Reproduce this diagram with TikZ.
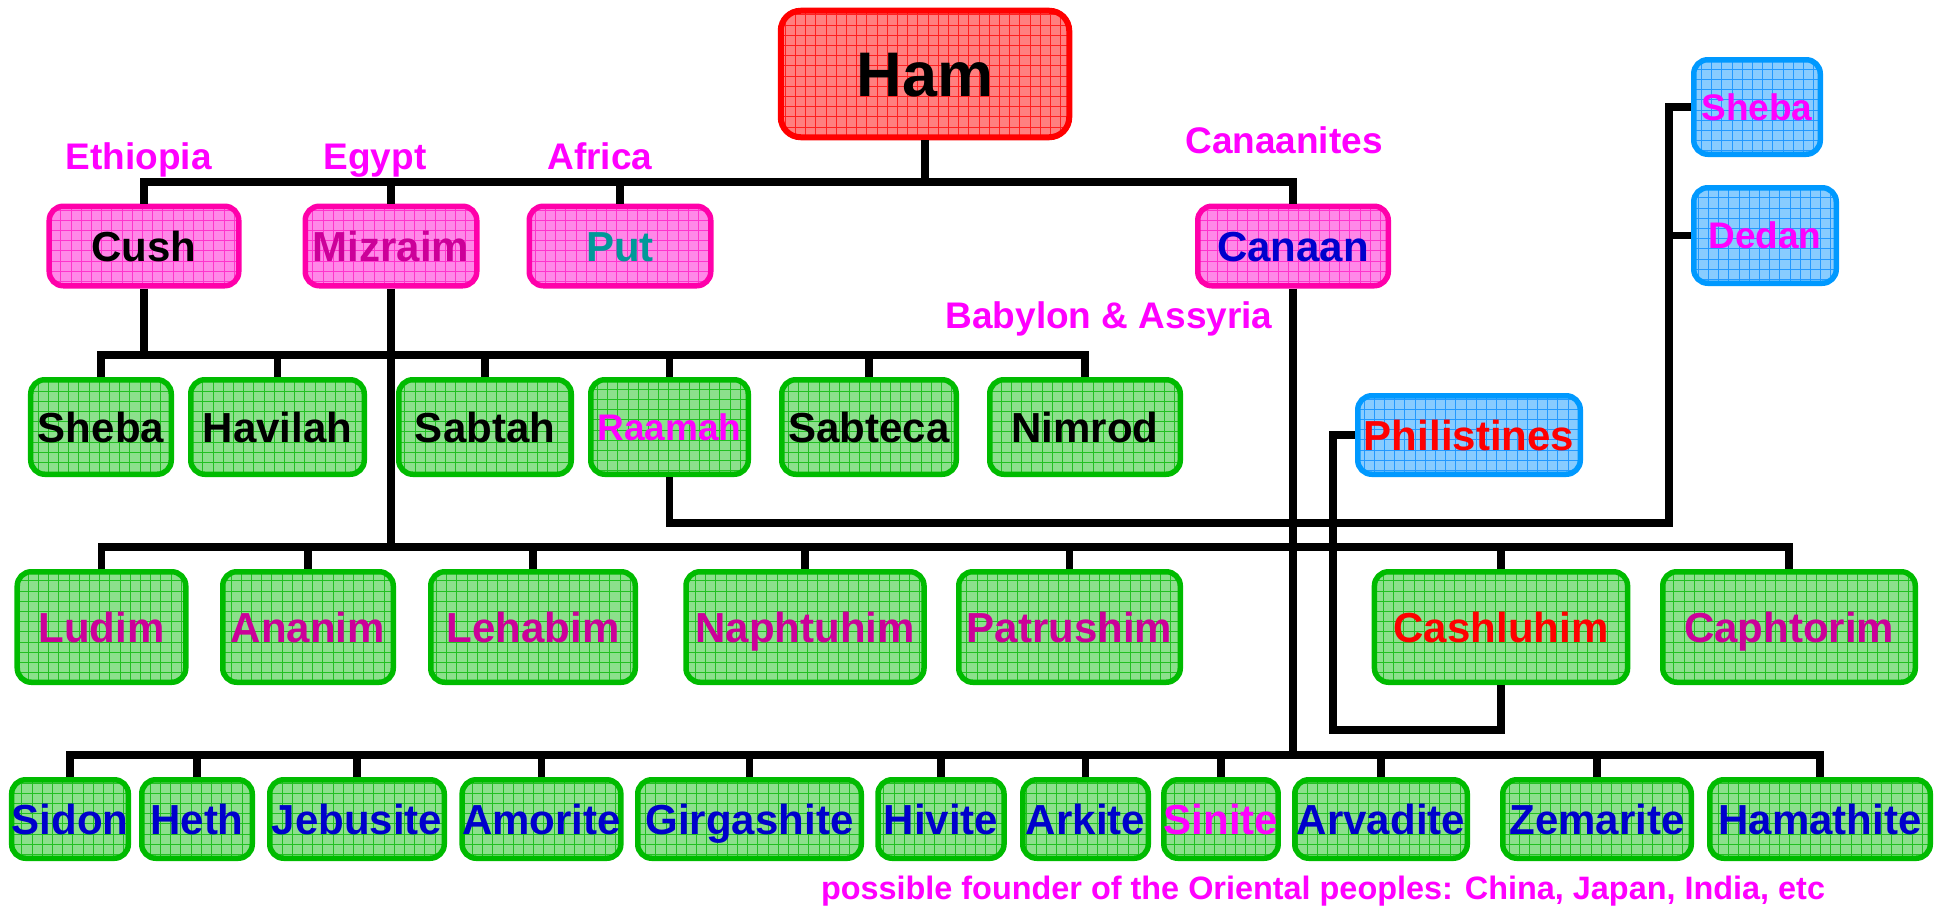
\documentclass[tikz,border=0pt]{standalone}
\usepackage{fontspec}
\setmainfont{Liberation Sans}
\definecolor{gfill}{HTML}{8CE08C}
\definecolor{gline}{HTML}{22C022}
\definecolor{gborder}{HTML}{00BB00}
\definecolor{pfill}{HTML}{FF88E8}
\definecolor{pline}{HTML}{FF33CC}
\definecolor{pborder}{HTML}{FF00AA}
\definecolor{rfill}{HTML}{FF8080}
\definecolor{rline}{HTML}{FF2020}
\definecolor{rborder}{HTML}{FF0000}
\definecolor{bfill}{HTML}{88CCFF}
\definecolor{bline}{HTML}{2299FF}
\definecolor{bborder}{HTML}{0099FF}
\definecolor{tmag}{HTML}{FF00FF}
\definecolor{tpurp}{HTML}{CC0099}
\definecolor{tblue}{HTML}{0000CC}
\definecolor{tteal}{HTML}{009999}
\definecolor{tred}{HTML}{FF0000}
\newcommand\fbigname{\bfseries\fontsize{42bp}{50bp}\selectfont}
\newcommand\fsmname{\bfseries\fontsize{37bp}{44bp}\selectfont}
\newcommand\fhamname{\bfseries\fontsize{63bp}{70bp}\selectfont}
\newcommand\fnote{\bfseries\fontsize{32.4bp}{38bp}\selectfont}
\begin{document}
\begin{tikzpicture}[x=1bp,y=-1bp,
  bx/.style n args={2}{minimum width={#1bp-5.5bp}, minimum height={#2bp-5.5bp}},
  basebox/.style={draw, rounded corners=14bp, line width=5.5bp, inner sep=0pt,
    text height=30bp, text depth=0pt, font=\fbigname},
  gnode/.style={basebox, draw=gborder, fill=gfill,
    path picture={\draw[gline, line width=0.9bp, step=10.2bp] (path picture bounding box.south west) grid (path picture bounding box.north east);}},
  pnode/.style={basebox, draw=pborder, fill=pfill,
    path picture={\draw[pline, line width=0.9bp, step=10.2bp] (path picture bounding box.south west) grid (path picture bounding box.north east);}},
  rnode/.style={basebox, draw=rborder, fill=rfill, line width=6bp, rounded corners=20bp,
    path picture={\draw[rline, line width=0.9bp, step=10.2bp] (path picture bounding box.south west) grid (path picture bounding box.north east);}},
  bnode/.style={basebox, draw=bborder, fill=bfill,
    path picture={\draw[bline, line width=0.9bp, step=10.2bp] (path picture bounding box.south west) grid (path picture bounding box.north east);}},
  smalltext/.style={font=\fsmname, text height=26.5bp},
  lab/.style={font=\fsmname, text=tmag, inner sep=0pt, anchor=base},
  conn/.style={line width=7.5bp, black}
]
\useasboundingbox (0,0) rectangle (1944,907);

% Ham
\node[rnode, bx={294}{132}, font=\fhamname, text height=45bp] (ham) at (925,74) {Ham};

% sons
\node[pnode, bx={195}{85}] (cush) at (144,246) {Cush};
\node[pnode, bx={177}{85}, text=tpurp] (mizraim) at (391,246) {Mizraim};
\node[pnode, bx={187}{85}, text=tteal] (put) at (620,246) {Put};
\node[pnode, bx={196}{85}, text=tblue] (canaan) at (1293,246) {Canaan};

% row 1 (sons of Cush)
\node[gnode, bx={146}{100}] (sheba1) at (101,427) {Sheba};
\node[gnode, bx={179}{100}] (havilah) at (277.5,427) {Havilah};
\node[gnode, bx={178}{100}] (sabtah) at (485,427) {Sabtah};
\node[gnode, bx={163}{100}, smalltext, text=tmag] (raamah) at (669.5,427) {Raamah};
\node[gnode, bx={180}{100}] (sabteca) at (869,427) {Sabteca};
\node[gnode, bx={196}{100}] (nimrod) at (1085,427) {Nimrod};

% row 3 (sons of Mizraim)
\node[gnode, bx={174}{116}, text=tpurp] (ludim) at (101.5,627) {Ludim};
\node[gnode, bx={176}{116}, text=tpurp] (ananim) at (308,627) {Ananim};
\node[gnode, bx={210}{116}, text=tpurp] (lehabim) at (533,627) {Lehabim};
\node[gnode, bx={243.5}{116}, text=tpurp] (naph) at (805,627) {Naphtuhim};
\node[gnode, bx={227}{116}, text=tpurp] (patr) at (1069.5,627) {Patrushim};
\node[gnode, bx={258.6}{116}, text=tred] (cash) at (1501,627) {Cashluhim};
\node[gnode, bx={258}{116}, text=tpurp] (caph) at (1789,627) {Caphtorim};

% row 4 (sons of Canaan)
\node[gnode, bx={114}{84}, text=tblue] (sidon) at (70,819) {Sidon};
\node[gnode, bx={116}{84}, text=tblue] (heth) at (197,819) {Heth};
\node[gnode, bx={180}{84}, text=tblue] (jebus) at (357,819) {Jebusite};
\node[gnode, bx={163}{84}, text=tblue] (amor) at (541.5,819) {Amorite};
\node[gnode, bx={229}{84}, text=tblue] (girg) at (749.5,819) {Girgashite};
\node[gnode, bx={131.5}{84}, text=tblue] (hivite) at (941,819) {Hivite};
\node[gnode, bx={131}{84}, text=tblue] (arkite) at (1085.5,819) {Arkite};
\node[gnode, bx={116.5}{84}, text=tmag] (sinite) at (1221,819) {Sinite};
\node[gnode, bx={178}{84}, text=tblue] (arvad) at (1381,819) {Arvadite};
\node[gnode, bx={194}{84}, text=tblue] (zemar) at (1597,819) {Zemarite};
\node[gnode, bx={226}{84}, text=tblue] (hamath) at (1820,819) {Hamathite};

% blue boxes
\node[bnode, bx={228}{84}, text=tred] (phil) at (1469,435) {Philistines};
\node[bnode, bx={132}{100}, smalltext, text=tmag] (bsheba) at (1757,107) {Sheba};
\node[bnode, bx={148}{101}, smalltext, text=tmag] (dedan) at (1765,235.5) {Dedan};

% labels
\node[lab] (lEth) at (138.6,169) {Ethiopia};
\node[lab] (lEgy) at (375,169) {Egypt};
\node[lab] (lAfr) at (600,169) {Africa};
\node[lab] (lCan) at (1284,153) {Canaanites};
\node[lab] (lBab) at (1109,328) {Babylon \& Assyria};
\node[lab, font=\fnote] (lOri) at (1323,899) {possible founder of the Oriental peoples: China, Japan, India, etc};

% connectors
\coordinate (tb) at (0,182);
\coordinate (b1) at (0,355);
\coordinate (b2) at (0,547);
\coordinate (b4) at (0,755);
\coordinate (rj) at (1669,523);
\coordinate (pj) at (1333,730);

\draw[conn] (ham.south) -- (ham.south |- tb);
\draw[conn] (cush.north) -- (cush.north |- tb) -- (canaan.north |- tb) -- (canaan.north);
\draw[conn] (mizraim.north) -- (mizraim.north |- tb);
\draw[conn] (put.north) -- (put.north |- tb);

\draw[conn] (cush.south) -- (cush.south |- b1);
\draw[conn] (sheba1.north) -- (sheba1.north |- b1) -- (nimrod.north |- b1) -- (nimrod.north);
\foreach \n in {havilah,sabtah,raamah,sabteca}
  \draw[conn] (\n.north) -- (\n.north |- b1);

\draw[conn] (mizraim.south) -- (mizraim.south |- b2);
\draw[conn] (ludim.north) -- (ludim.north |- b2) -- (caph.north |- b2) -- (caph.north);
\foreach \n in {ananim,lehabim,naph,patr,cash}
  \draw[conn] (\n.north) -- (\n.north |- b2);

\draw[conn] (canaan.south) -- (canaan.south |- b4);
\draw[conn] (sidon.north) -- (sidon.north |- b4) -- (hamath.north |- b4) -- (hamath.north);
\foreach \n in {heth,jebus,amor,girg,hivite,arkite,sinite,arvad,zemar}
  \draw[conn] (\n.north) -- (\n.north |- b4);

\draw[conn] (raamah.south) |- (rj) -- (rj |- bsheba.west) -- (bsheba.west);
\draw[conn] (dedan.west) -- (dedan.west -| rj);

\draw[conn] (phil.west) -| (pj) -| (cash.south);
\end{tikzpicture}
\end{document}
